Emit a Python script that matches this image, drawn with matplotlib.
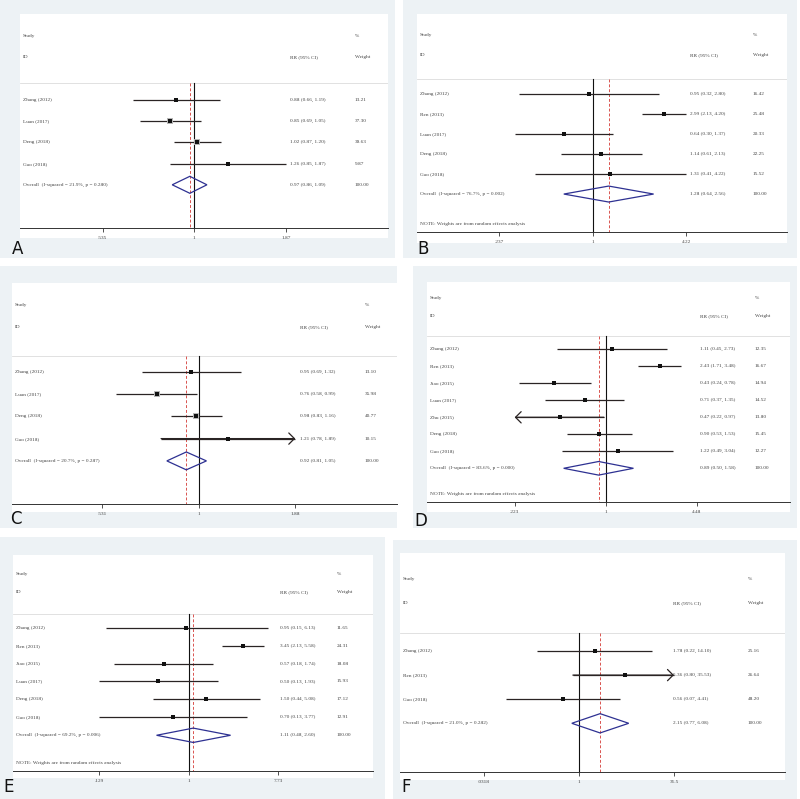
import numpy as np
import matplotlib
matplotlib.use("Agg")
import matplotlib.pyplot as plt
from matplotlib.patches import Rectangle, Polygon
from matplotlib.transforms import blended_transform_factory
from matplotlib.ticker import NullLocator

# ---------------- data ----------------
A_studies = ["Zhang (2012)", "Luan (2017)", "Deng (2018)", "Gao (2018)"]
A_rr = [0.88, 0.85, 1.02, 1.26]
A_lo = [0.66, 0.69, 0.87, 0.85]
A_hi = [1.19, 1.05, 1.20, 1.87]
A_w = [13.21, 37.30, 39.63, 9.87]
A_overall = [0.97, 0.86, 1.09]
A_stats = "I-squared = 21.9%, p = 0.280"
A_ticks = [0.535, 1, 1.87]
A_ticklabels = [".535", "1", "1.87"]

B_studies = ["Zhang (2012)", "Ren (2013)", "Luan (2017)", "Deng (2018)", "Gao (2018)"]
B_rr = [0.95, 2.99, 0.64, 1.14, 1.31]
B_lo = [0.32, 2.13, 0.30, 0.61, 0.41]
B_hi = [2.80, 4.20, 1.37, 2.13, 4.22]
B_w = [16.42, 25.48, 20.33, 22.25, 15.52]
B_overall = [1.28, 0.64, 2.56]
B_stats = "I-squared = 76.7%, p = 0.002"
B_ticks = [0.237, 1, 4.22]
B_ticklabels = [".237", "1", "4.22"]

C_studies = ["Zhang (2012)", "Luan (2017)", "Deng (2018)", "Gao (2018)"]
C_rr = [0.95, 0.76, 0.98, 1.21]
C_lo = [0.69, 0.58, 0.83, 0.78]
C_hi = [1.32, 0.99, 1.16, 1.89]
C_w = [13.10, 35.98, 40.77, 10.15]
C_overall = [0.92, 0.81, 1.05]
C_stats = "I-squared = 20.7%, p = 0.287"
C_ticks = [0.531, 1, 1.88]
C_ticklabels = [".531", "1", "1.88"]

D_studies = ["Zhang (2012)", "Ren (2013)", "Jiao (2015)", "Luan (2017)",
             "Zhu (2015)", "Deng (2018)", "Gao (2018)"]
D_rr = [1.11, 2.43, 0.43, 0.71, 0.47, 0.90, 1.22]
D_lo = [0.45, 1.71, 0.24, 0.37, 0.22, 0.53, 0.49]
D_hi = [2.73, 3.48, 0.78, 1.35, 0.97, 1.53, 3.04]
D_w = [12.35, 16.67, 14.94, 14.52, 13.80, 15.45, 12.27]
D_overall = [0.89, 0.50, 1.58]
D_stats = "I-squared = 83.6%, p = 0.000"
D_ticks = [0.223, 1, 4.48]
D_ticklabels = [".223", "1", "4.48"]

E_studies = ["Zhang (2012)", "Ren (2013)", "Jiao (2015)", "Luan (2017)",
             "Deng (2018)", "Gao (2018)"]
E_rr = [0.95, 3.45, 0.57, 0.50, 1.50, 0.70]
E_lo = [0.15, 2.13, 0.18, 0.13, 0.44, 0.13]
E_hi = [6.13, 5.58, 1.74, 1.93, 5.08, 3.77]
E_w = [11.65, 24.31, 18.08, 15.93, 17.12, 12.91]
E_overall = [1.11, 0.48, 2.60]
E_stats = "I-squared = 69.2%, p = 0.006"
E_ticks = [0.129, 1, 7.73]
E_ticklabels = [".129", "1", "7.73"]

F_studies = ["Zhang (2012)", "Ren (2013)", "Gao (2018)"]
F_rr = [1.78, 5.36, 0.56]
F_lo = [0.22, 0.80, 0.07]
F_hi = [14.10, 35.53, 4.41]
F_w = [25.16, 26.64, 48.20]
F_overall = [2.15, 0.77, 6.08]
F_stats = "I-squared = 21.0%, p = 0.282"
F_ticks = [0.0318, 1, 31.5]
F_ticklabels = [".0318", "1", "31.5"]

NOTE_TEXT = "NOTE: Weights are from random effects analysis"

# ---------------- layout (pixels) ----------------
W, H = 800, 799
layout = {
    "A": dict(gray=(0, 0, 395, 258), white=(20, 14, 388, 238), p1=194.3, pR=286,
              y0=100, dy=21.2, sep=83, axis=228, sy=36, iy=57, rrx=290, wx=355,
              note=None, box=0.85, letter=(12, 249)),
    "B": dict(gray=(403, 0, 797, 258), white=(417, 14, 787, 243), p1=592.7, pR=686,
              y0=94.3, dy=19.95, sep=79, axis=232, sy=35, iy=55, rrx=690, wx=753,
              note=224, box=0.55, letter=(417, 249)),
    "C": dict(gray=(0, 266, 397, 528), white=(12, 283, 397, 512), p1=199, pR=295.3,
              y0=371.7, dy=22.3, sep=356, axis=504, sy=305, iy=327, rrx=300, wx=365,
              note=None, box=0.85, letter=(10, 519)),
    "D": dict(gray=(413, 266, 797, 528), white=(427, 282, 790, 512), p1=605.7, pR=696.7,
              y0=349.3, dy=17.0, sep=336, axis=501.7, sy=298, iy=316, rrx=700, wx=755,
              note=494.3, box=0.5, letter=(414, 521)),
    "E": dict(gray=(0, 537, 385, 799), white=(13, 555, 373, 778), p1=188.7, pR=278.3,
              y0=627.7, dy=17.93, sep=614, axis=770.7, sy=574, iy=592, rrx=280, wx=337,
              note=762.7, box=0.5, letter=(3, 787)),
    "F": dict(gray=(393, 540, 797, 799), white=(400, 553, 785, 780), p1=579, pR=674,
              y0=651, dy=24.1, sep=632.7, axis=771.7, sy=579, iy=603, rrx=673, wx=748,
              note=None, box=0.5, letter=(401, 787)),
}

panels = {
    "A": (A_studies, A_rr, A_lo, A_hi, A_w, A_overall, A_stats, A_ticks, A_ticklabels),
    "B": (B_studies, B_rr, B_lo, B_hi, B_w, B_overall, B_stats, B_ticks, B_ticklabels),
    "C": (C_studies, C_rr, C_lo, C_hi, C_w, C_overall, C_stats, C_ticks, C_ticklabels),
    "D": (D_studies, D_rr, D_lo, D_hi, D_w, D_overall, D_stats, D_ticks, D_ticklabels),
    "E": (E_studies, E_rr, E_lo, E_hi, E_w, E_overall, E_stats, E_ticks, E_ticklabels),
    "F": (F_studies, F_rr, F_lo, F_hi, F_w, F_overall, F_stats, F_ticks, F_ticklabels),
}

GRAY_BG = "#edf2f5"
TXT = "#444444"
LINE = "#2a2424"
DIAM = "#2e3192"
RED = "#d9534f"
FS = 3.8
FONT = "Liberation Serif"

fig = plt.figure(figsize=(W / 100, H / 100), dpi=100)
fig.patch.set_facecolor("white")


def fx(px):
    return px / W


def fy(py):
    return 1 - py / H


for key in ["A", "B", "C", "D", "E", "F"]:
    L = layout[key]
    studies, rr, lo, hi, w, ov, stats, ticks, ticklabels = panels[key]

    gx0, gy0, gx1, gy1 = L["gray"]
    fig.add_artist(Rectangle((fx(gx0), fy(gy1)), fx(gx1 - gx0), (gy1 - gy0) / H,
                             transform=fig.transFigure, facecolor=GRAY_BG,
                             edgecolor="none", zorder=0))
    wx0, wy0, wx1, wy1 = L["white"]
    ax = fig.add_axes([fx(wx0), fy(wy1), fx(wx1 - wx0), (wy1 - wy0) / H])
    ax.set_facecolor("white")
    ax.set_xscale("log")
    k = (L["pR"] - L["p1"]) / np.log(ticks[-1])
    ax.set_xlim(np.exp((wx0 - L["p1"]) / k), np.exp((wx1 - L["p1"]) / k))

    def yv(py, L=L):
        return (py - L["y0"]) / L["dy"]

    ax.set_ylim(yv(wy1), yv(wy0))
    for s in ["top", "left", "right"]:
        ax.spines[s].set_visible(False)
    ax.spines["bottom"].set_position(("data", yv(L["axis"])))
    ax.spines["bottom"].set_color("#333333")
    ax.spines["bottom"].set_linewidth(0.7)
    ax.set_yticks([])
    ax.set_xticks(ticks)
    ax.set_xticklabels(ticklabels, fontsize=FS, family=FONT, color=TXT)
    ax.xaxis.set_minor_locator(NullLocator())
    ax.tick_params(axis="x", length=3, width=0.6, color="#333333", pad=3)

    tr = blended_transform_factory(ax.transAxes, ax.transData)

    def ax_x(px, wx0=wx0, wx1=wx1):
        return (px - wx0) / (wx1 - wx0)

    # header
    ax.text(ax_x(wx0 + 3), yv(L["sy"]), "Study", transform=tr, fontsize=FS,
            family=FONT, color=TXT, va="center")
    ax.text(ax_x(wx0 + 3), yv(L["iy"]), "ID", transform=tr, fontsize=FS,
            family=FONT, color=TXT, va="center")
    ax.text(ax_x(L["rrx"]), yv(L["iy"]), "RR (95% CI)", transform=tr, fontsize=FS,
            family=FONT, color=TXT, va="center")
    ax.text(ax_x(L["wx"]), yv(L["sy"]), "%", transform=tr, fontsize=FS,
            family=FONT, color=TXT, va="center")
    ax.text(ax_x(L["wx"]), yv(L["iy"]), "Weight", transform=tr, fontsize=FS,
            family=FONT, color=TXT, va="center")
    ax.axhline(yv(L["sep"]), color="#dcdcdc", lw=0.6)

    # reference lines
    ax.plot([1, 1], [yv(L["sep"]), yv(L["axis"])], color="#111111", lw=0.8, zorder=2)
    ax.plot([ov[0], ov[0]], [yv(L["sep"]), yv(L["axis"])], color=RED, lw=0.7,
            ls=(0, (3, 2)), zorder=2)

    tmin, tmax = ticks[0], ticks[-1]
    n = len(studies)
    for i in range(n):
        y = i
        xl = max(lo[i], tmin)
        xr = min(hi[i], tmax)
        ax.plot([xl, xr], [y, y], color=LINE, lw=0.9, zorder=3, solid_capstyle="butt")
        if hi[i] > tmax:
            ax.annotate("", xy=(tmax, y), xytext=(xl, y),
                        arrowprops=dict(arrowstyle="->,head_length=0.45,head_width=0.45",
                                        color=LINE, lw=0.9, shrinkA=0, shrinkB=0,
                                        mutation_scale=9), zorder=3)
        if lo[i] < tmin:
            ax.annotate("", xy=(tmin, y), xytext=(xr, y),
                        arrowprops=dict(arrowstyle="->,head_length=0.45,head_width=0.45",
                                        color=LINE, lw=0.9, shrinkA=0, shrinkB=0,
                                        mutation_scale=9), zorder=3)
        ax.plot([rr[i]], [y], marker="s", markersize=L["box"] * np.sqrt(w[i]) * 0.72,
                color="#b5b5b5", markeredgewidth=0, zorder=4)
        ax.plot([rr[i]], [y], marker="s", markersize=2.3, color="#111111",
                markeredgewidth=0, zorder=5)
        ax.text(ax_x(wx0 + 3), y, studies[i], transform=tr, fontsize=FS,
                family=FONT, color=TXT, va="center")
        ax.text(ax_x(L["rrx"]), y, f"{rr[i]:.2f} ({lo[i]:.2f}, {hi[i]:.2f})",
                transform=tr, fontsize=FS, family=FONT, color=TXT, va="center")
        ax.text(ax_x(L["wx"]), y, f"{w[i]:.2f}", transform=tr, fontsize=FS,
                family=FONT, color=TXT, va="center")

    # overall diamond
    y = n
    h = 0.4
    diamond = Polygon([(ov[1], y), (ov[0], y - h), (ov[2], y), (ov[0], y + h)],
                      closed=True, fill=False, edgecolor=DIAM, lw=0.9, zorder=4)
    ax.add_patch(diamond)
    ax.text(ax_x(wx0 + 3), y, f"Overall  ({stats})", transform=tr, fontsize=FS,
            family=FONT, color=TXT, va="center")
    ax.text(ax_x(L["rrx"]), y, f"{ov[0]:.2f} ({ov[1]:.2f}, {ov[2]:.2f})",
            transform=tr, fontsize=FS, family=FONT, color=TXT, va="center")
    ax.text(ax_x(L["wx"]), y, "100.00", transform=tr, fontsize=FS,
            family=FONT, color=TXT, va="center")
    if L["note"] is not None:
        ax.text(ax_x(wx0 + 3), yv(L["note"]), NOTE_TEXT, transform=tr, fontsize=FS,
                family=FONT, color=TXT, va="center")

    lx, ly = L["letter"]
    fig.text(fx(lx), fy(ly), key, fontsize=12, family="DejaVu Sans",
             color="#111111", va="center", ha="left")

fig.savefig("out.png", dpi=100, facecolor="white")
